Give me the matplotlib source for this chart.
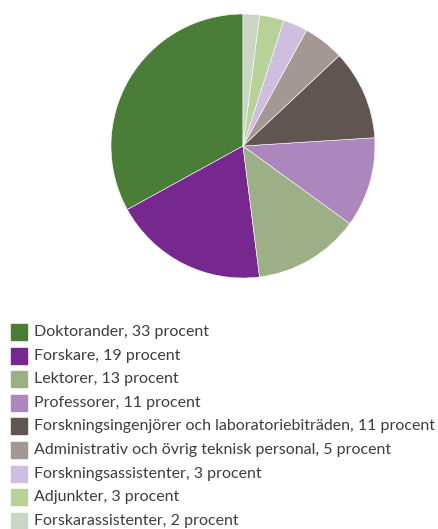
import matplotlib.pyplot as plt
from matplotlib.patches import Rectangle

# Personalkategorier och andelar
kategorier = ["Doktorander", "Forskare", "Lektorer", "Professorer",
              "Forskningsingenjörer och laboratoriebiträden",
              "Administrativ och övrig teknisk personal",
              "Forskningsassistenter", "Adjunkter", "Forskarassistenter"]
andelar = [33, 19, 13, 11, 11, 5, 3, 3, 2]
farger = ["#4a7d37", "#76288f", "#9daf86", "#ac87bd", "#615552",
          "#a39893", "#cfbedd", "#b8d198", "#cbd5c3"]

W, H = 439, 529
fig = plt.figure(figsize=(W / 100, H / 100), dpi=100)

# Cirkeldiagram
ax = fig.add_axes([111 / W, 1 - 278 / H, 264 / W, 264 / H])
ax.pie(andelar, colors=farger, startangle=90, counterclock=True,
       wedgeprops={"edgecolor": "white", "linewidth": 0.4})
ax.set_xlim(-1, 1)
ax.set_ylim(-1, 1)
ax.set_aspect("equal")
ax.axis("off")

# Förklaring
y0 = 332
dy = 23.6
for i, (k, v, c) in enumerate(zip(kategorier, andelar, farger)):
    y = y0 + i * dy
    fig.patches.append(Rectangle((11 / W, 1 - (y + 8) / H), 16 / W, 16 / H,
                                 transform=fig.transFigure, color=c))
    fig.text(34 / W, 1 - y / H, f"{k}, {v} procent", fontsize=11.5,
             family="Lato", color="#3d3d3d",
             va="center", ha="left")

fig.savefig("out.png", dpi=100)
